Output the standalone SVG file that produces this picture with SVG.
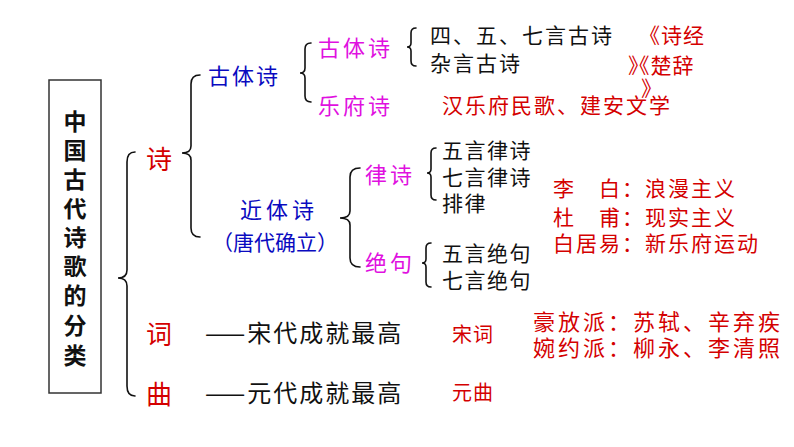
<svg xmlns="http://www.w3.org/2000/svg" width="794" height="447" viewBox="0 0 794 447">
<style>
text{font-family:"Noto Sans CJK SC","Noto Sans",sans-serif;}
.red{fill:#d40000;}
.blue{fill:#0a0ac0;}
.mag{fill:#e010e0;}
.blk{fill:#111;}
.brace{fill:none;stroke:#111;stroke-width:1.6;stroke-linecap:round;}
</style>
<rect width="794" height="447" fill="#fff"/>
<g id="title">
<rect x="49" y="80" width="52" height="313" fill="#fff" stroke="#333" stroke-width="1.5"/>
<text class="blk" font-size="23" font-weight="bold" text-anchor="middle">
<tspan x="75" y="129.5">中</tspan><tspan x="75" y="158.5">国</tspan><tspan x="75" y="187.5">古</tspan><tspan x="75" y="216.5">代</tspan><tspan x="75" y="245.5">诗</tspan><tspan x="75" y="274.5">歌</tspan><tspan x="75" y="304">的</tspan><tspan x="75" y="334">分</tspan><tspan x="75" y="363.5">类</tspan>
</text>
</g>
<g id="connectors">
<path class="brace" d="M135,152 Q127,152 127,162 L127,270 Q127,278 118,278 Q127,278 127,286 L127,386 Q127,396 135,396"/>
<path class="brace" d="M200,75 Q191,75 191,84 L191,146 Q191,153 182,153 Q191,153 191,160 L191,228 Q191,237 200,237"/>
<path class="brace" d="M311,43 Q305,43 305,49 L305,68 Q305,73 300,73 Q305,73 305,78 L305,96 Q305,102 311,102"/>
<path class="brace" d="M416,28 Q411,28 411,33 L411,43 Q411,47 407,47 Q411,47 411,51 L411,61 Q411,66 416,66"/>
<path class="brace" d="M360,168 Q350,168 350,177 L350,211 Q350,218 340,218 Q350,218 350,225 L350,258 Q350,267 360,267"/>
<path class="brace" d="M436,148 Q431,148 431,153 L431,169 Q431,173 427,173 Q431,173 431,177 L431,195 Q431,200 436,200"/>
<path class="brace" d="M431,243 Q426,243 426,248 L426,259 Q426,263 422,263 Q426,263 426,267 L426,282 Q426,287 431,287"/>
</g>
<g id="shi"><text class="red" x="146" y="169" font-size="26">诗</text></g>
<g id="ci"><text class="red" x="146" y="344" font-size="26">词</text></g>
<g id="qu"><text class="red" x="146" y="404" font-size="26">曲</text></g>
<g id="gutishi"><text class="blue" x="208" y="84" font-size="22" letter-spacing="2">古体诗</text></g>
<g id="jintishi"><text class="blue" font-size="22"><tspan x="240" y="218" letter-spacing="4">近体诗</tspan><tspan x="212" y="250" font-size="21">（唐代确立）</tspan></text></g>
<g id="gutishi2"><text class="mag" x="318" y="56" font-size="22" letter-spacing="3">古体诗</text></g>
<g id="yuefushi"><text class="mag" x="318" y="114" font-size="22" letter-spacing="3">乐府诗</text></g>
<g id="lushi"><text class="mag" x="365" y="183" font-size="22" letter-spacing="3">律诗</text></g>
<g id="jueju"><text class="mag" x="365" y="271" font-size="22" letter-spacing="3">绝句</text></g>
<g id="guti-items"><text class="blk" font-size="21" letter-spacing="2"><tspan x="430" y="43">四、五、七言古诗</tspan><tspan x="430" y="71">杂言古诗</tspan></text></g>
<g id="shijing"><text class="red" font-size="21" letter-spacing="1"><tspan x="639" y="43">《诗经</tspan><tspan x="628" y="73" dx="0 -11 0 0">》《楚辞</tspan><tspan x="641" y="96">》</tspan></text></g>
<g id="yuefu-note"><text class="red" x="442" y="113" font-size="21" letter-spacing="2">汉乐府民歌、建安文学</text></g>
<g id="lushi-items"><text class="blk" font-size="21" letter-spacing="1.5"><tspan x="442" y="158">五言律诗</tspan><tspan x="442" y="185">七言律诗</tspan><tspan x="442" y="211">排律</tspan></text></g>
<g id="jueju-items"><text class="blk" font-size="21" letter-spacing="1.5"><tspan x="442" y="261">五言绝句</tspan><tspan x="442" y="288">七言绝句</tspan></text></g>
<g id="poets"><text class="red" font-size="21" letter-spacing="2"><tspan x="553" y="196">李　白：浪漫主义</tspan><tspan x="553" y="225">杜　甫：现实主义</tspan><tspan x="553" y="251">白居易：新乐府运动</tspan></text></g>
<g id="song"><text class="blk" x="205" y="342" font-size="24" letter-spacing="2">——宋代成就最高</text></g>
<g id="yuan"><text class="blk" x="205" y="402" font-size="24" letter-spacing="2">——元代成就最高</text></g>
<g id="songci"><text class="red" x="452" y="342" font-size="20" letter-spacing="1">宋词</text></g>
<g id="yuanqu"><text class="red" x="452" y="400" font-size="20" letter-spacing="1">元曲</text></g>
<g id="ci-schools"><text class="red" font-size="22" letter-spacing="3"><tspan x="533" y="330">豪放派：苏轼、辛弃疾</tspan><tspan x="533" y="356">婉约派：柳永、李清照</tspan></text></g>
</svg>
